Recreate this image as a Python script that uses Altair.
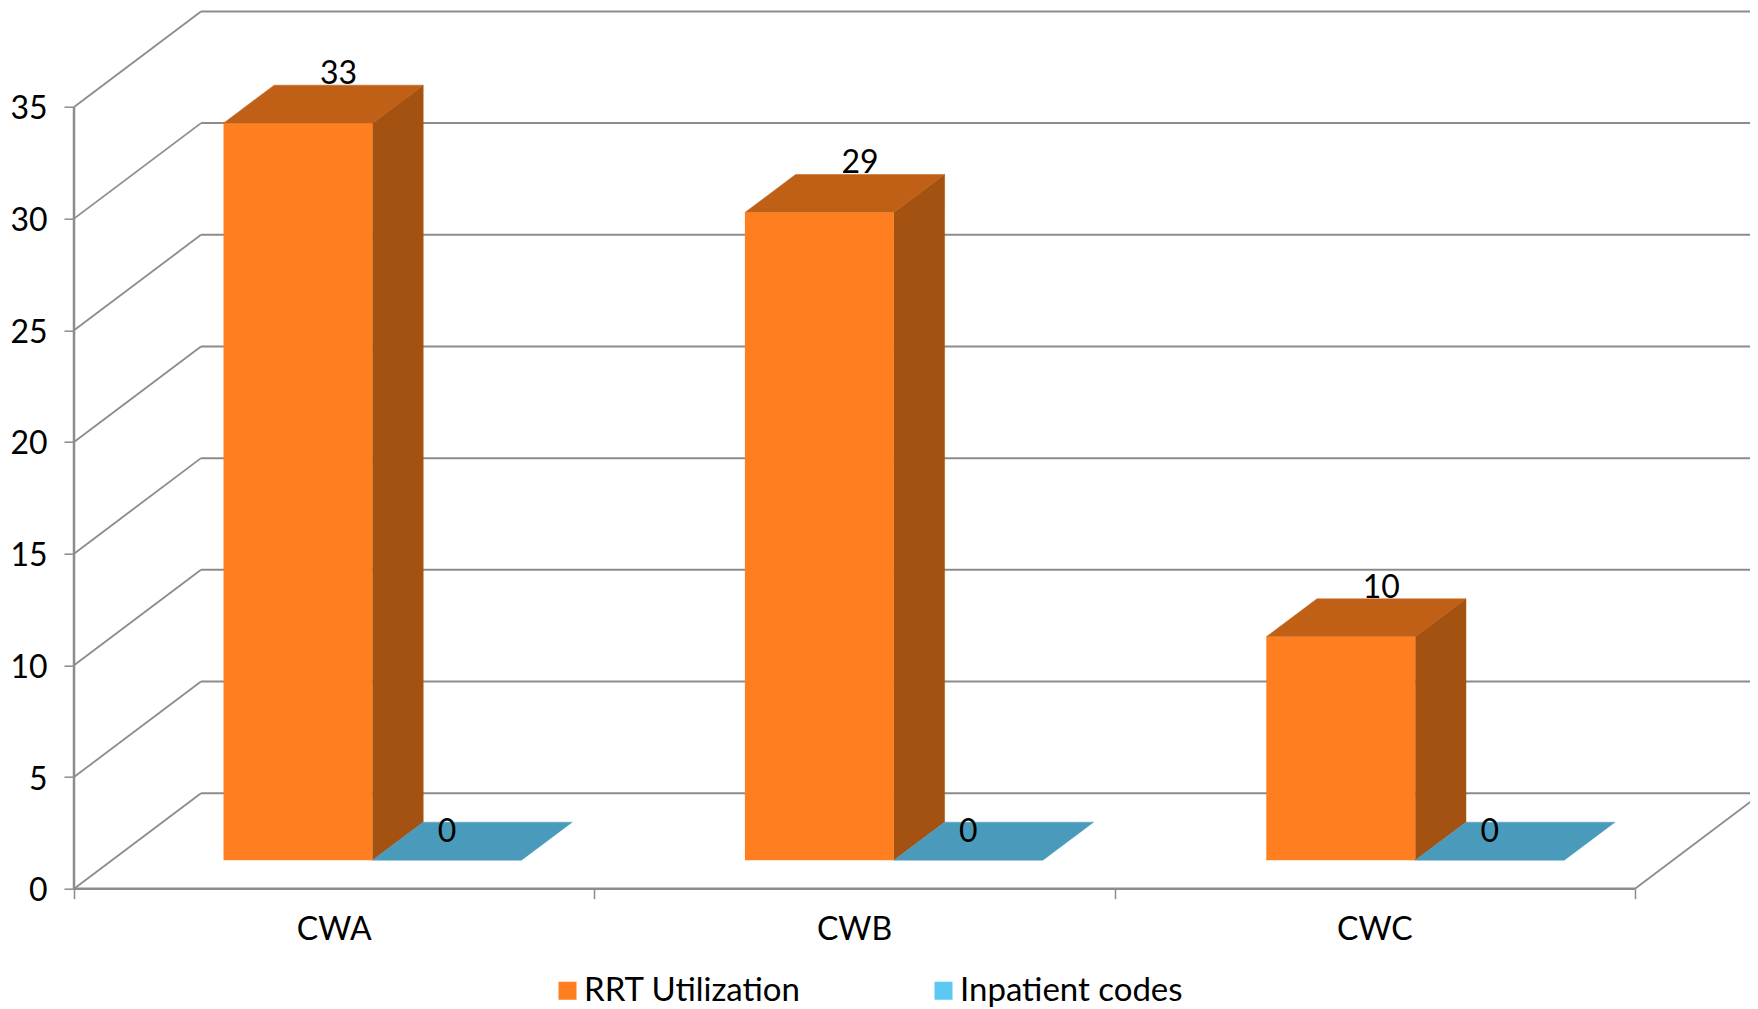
import altair as alt
import pandas as pd

categories = ["CWA", "CWB", "CWC"]
series = ["RRT Utilization", "Inpatient codes"]
rrt_values = [33, 29, 10]
inpatient_values = [0, 0, 0]
y_ticks = [0, 5, 10, 15, 20, 25, 30, 35]

FONT = "Lato"
FS = 32
GRID = "#8c8c8c"
COLORS = {"RRT Utilization": "#ff7f20", "Inpatient codes": "#5cc8f4"}
TOP = {"RRT Utilization": "#c06016", "Inpatient codes": "#4a9bbb"}
SIDE = "#a35211"

# oblique projection expressed in data units
CAT_PX = 520.33
VAL_PX = 22.33
WALL_DX, WALL_DY = 127 / CAT_PX, 95.5 / VAL_PX
BASE_DX, BASE_DY = 38 / CAT_PX, 28.5 / VAL_PX
BAR_DX, BAR_DY = 50.7 / CAT_PX, 38 / VAL_PX
GAP, BAR_W = 111.5 / CAT_PX, 149 / CAT_PX
BAR_STEP = 521.4 / CAT_PX

XDOM = [0, 1676 / CAT_PX]
YDOM = [0, 877.8 / VAL_PX]
X = alt.Scale(domain=XDOM, nice=False, zero=False)
Y = alt.Scale(domain=YDOM, nice=False, zero=False)

rows = []
for ci, cat in enumerate(categories):
    for si, (s, vals) in enumerate(zip(series, [rrt_values, inpatient_values])):
        v = vals[ci]
        left = ci * BAR_STEP + BASE_DX + GAP + si * BAR_W
        right = left + BAR_W
        rows.append(dict(id=f"{cat}-{si}", cat=cat, series=s, value=v, left=left, right=right,
                         base=BASE_DY, top=BASE_DY + v))
bars = pd.DataFrame(rows)

side_rows, top_rows = [], []
for r in rows:
    side_pts = [(r["right"], r["base"]), (r["right"], r["top"]),
                (r["right"] + BAR_DX, r["top"] + BAR_DY), (r["right"] + BAR_DX, r["base"] + BAR_DY)]
    top_pts = [(r["left"], r["top"]), (r["right"], r["top"]),
               (r["right"] + BAR_DX, r["top"] + BAR_DY), (r["left"] + BAR_DX, r["top"] + BAR_DY)]
    for k, (px, py) in enumerate(side_pts):
        side_rows.append(dict(id=r["id"], series=r["series"], px=px, py=py, k=k))
    for k, (px, py) in enumerate(top_pts):
        top_rows.append(dict(id=r["id"], series=r["series"], px=px, py=py, k=k))
side = pd.DataFrame(side_rows)
top = pd.DataFrame(top_rows)

label_rows = []
for r in rows:
    centre = (r["left"] + r["right"]) / 2
    shift = 0.8 * BAR_DX if r["value"] else 0
    label_rows.append(dict(x=centre + shift, y=r["top"] + BAR_DY, text=str(r["value"]), value=r["value"]))
labels = pd.DataFrame(label_rows)

grid = pd.DataFrame({"v": y_ticks})
grid["x0"] = WALL_DX
grid["x1"] = 3 + WALL_DX
grid["y"] = grid["v"] + WALL_DY

diag = pd.DataFrame(
    [dict(v=v, x=k * WALL_DX, y=v + k * WALL_DY) for v in y_ticks for k in (0, 1)]
)
floor_right = pd.DataFrame([dict(x=3 + k * WALL_DX, y=k * WALL_DY, k=k) for k in (0, 1)])
front = pd.DataFrame({"x0": [0, 0], "x1": [0, 3], "y0": [0, 0], "y1": [35, 0]})
cat_labels = pd.DataFrame({"cat": categories, "x": [i + 0.5 for i in range(3)]})

grid_layer = alt.Chart(grid).mark_rule(color=GRID, strokeWidth=2).encode(
    x=alt.X("x0:Q", scale=X, axis=alt.Axis(values=[0, 1, 2, 3], labels=False, title=None, grid=False,
                                             domain=False, tickColor=GRID, tickSize=10, tickWidth=1.5)),
    x2="x1:Q",
    y=alt.Y("y:Q", scale=Y, axis=alt.Axis(values=y_ticks, title=None, grid=False, domain=False,
                                            tickColor=GRID, tickSize=10, tickWidth=1.5, labelFont=FONT,
                                            labelFontSize=FS, labelColor="#000000", labelPadding=17,
                                            labelOffset=2)),
)
diag_layer = alt.Chart(diag).mark_line(color=GRID, strokeWidth=1.8).encode(
    x=alt.X("x:Q", scale=X), y=alt.Y("y:Q", scale=Y), detail="v:N", order="x:Q"
)
floor_layer = alt.Chart(floor_right).mark_line(color=GRID, strokeWidth=1.8).encode(
    x=alt.X("x:Q", scale=X), y=alt.Y("y:Q", scale=Y), order="k:Q"
)
front_layer = alt.Chart(front).mark_rule(color=GRID, strokeWidth=2.5).encode(
    x=alt.X("x0:Q", scale=X), x2="x1:Q", y=alt.Y("y0:Q", scale=Y), y2="y1:Q"
)


def face(df, colour):
    return alt.Chart(df).mark_line(
        interpolate="linear-closed", filled=True, fill=colour, stroke=colour, strokeWidth=0.5
    ).encode(
        x=alt.X("px:Q", scale=X), y=alt.Y("py:Q", scale=Y), detail="id:N", order="k:Q"
    )


side_layer = face(side[side["series"] == series[0]], SIDE)
top_layers = [face(top[top["series"] == s], TOP[s]) for s in series]
bar_layer = alt.Chart(bars).mark_rect().encode(
    x=alt.X("left:Q", scale=X), x2="right:Q", y=alt.Y("base:Q", scale=Y), y2="top:Q",
    color=alt.Color(
        "series:N",
        scale=alt.Scale(domain=series, range=[COLORS[s] for s in series]),
        legend=alt.Legend(
            title=None, orient="none", legendX=477, legendY=963, direction="horizontal",
            symbolType="square", symbolSize=324, symbolStrokeWidth=0, labelFont=FONT, labelFontSize=33,
            labelColor="#000000", columns=2, columnPadding=125, labelOffset=0, labelLimit=400,
            clipHeight=34,
        ),
    ),
)


def value_text(df, dy):
    return alt.Chart(df).mark_text(
        font=FONT, fontSize=FS, color="#000000", baseline="bottom", align="center", dy=dy
    ).encode(x=alt.X("x:Q", scale=X), y=alt.Y("y:Q", scale=Y), text="text:N")


value_labels = value_text(labels[labels["value"] > 0], 6)
zero_labels = value_text(labels[labels["value"] == 0], 27)
cat_layer = alt.Chart(cat_labels).mark_text(font=FONT, fontSize=FS, color="#000000", baseline="middle", align="center", dy=41).encode(
    x=alt.X("x:Q", scale=X), y=alt.datum(0, scale=Y), text="cat:N"
)

chart = (
    alt.layer(grid_layer, diag_layer, floor_layer, front_layer, side_layer, *top_layers, bar_layer,
              value_labels, zero_labels, cat_layer)
    .properties(
        width=1676, height=878,
        padding={"left": 66, "top": 2.7, "right": 0, "bottom": 120},
        autosize=alt.AutoSizeParams(type="none"),
        background="#ffffff",
    )
    .configure_view(stroke=None)
)
chart.save("out.html", embed_options={"renderer": "svg", "actions": False})
